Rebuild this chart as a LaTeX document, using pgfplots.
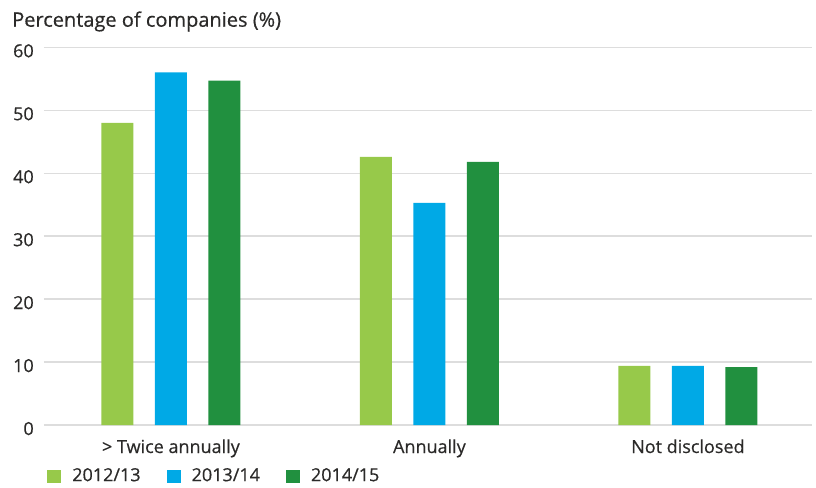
\documentclass[border=0pt]{standalone}
\usepackage{fontspec}
\setmainfont{Open Sans}[FakeBold=0.5]
\usepackage{pgfplots}
\pgfplotsset{compat=1.18}

\definecolor{lightg}{HTML}{97C94A}
\definecolor{skyb}{HTML}{00A9E6}
\definecolor{darkg}{HTML}{21903F}
\definecolor{txt}{HTML}{2B2A29}
\definecolor{gridc}{HTML}{DDDDDD}

\begin{document}
\fontsize{13.5}{16}\selectfont
\begin{tikzpicture}
% frame of the 816x487 px picture (1 px = 0.75 pt), axis origin at px (44,425)
\path[use as bounding box] (-33pt,-46.5pt) rectangle (579pt,318.75pt);
\begin{axis}[
    at={(0,0)}, anchor=south west,
    scale only axis, width=576pt, height=283.3pt,
    xmin=-0.491, xmax=2.480, ymin=0, ymax=60,
    ybar, bar width=24pt,
    axis line style={draw=none},
    major tick length=0pt,
    ymajorgrids, grid style={gridc, line width=1pt},
    ytick={0,10,20,30,40,50,60},
    xtick={0,1,2},
    xticklabels={{> Twice annually}, Annually, Not disclosed},
    /pgf/number format/assume math mode=true,
    ticklabel style={font=\fontsize{13.5}{16}\selectfont, text=txt, inner sep=0pt},
    yticklabel style={anchor=base east, xshift=-7.5pt, yshift=-7.5pt},
    xticklabel style={anchor=base, yshift=-21pt},
    legend columns=3,
    legend style={at={(axis description cs:0.0039,-0.135)}, anchor=west,
        draw=none, fill=none, inner sep=0pt,
        font=\fontsize{13.5}{16}\selectfont, text=txt,
        nodes={inner sep=0pt},
        /tikz/every even column/.append style={column sep=19.5pt}},
    legend image code/.code={%
        \fill[#1] (0pt,-5.5pt) rectangle (10.5pt,4.5pt);
        \path (18.75pt,0pt);},
]
\addplot[fill=lightg, draw=none, bar shift=-40.1pt] coordinates {(0,48.0) (1,42.6) (2,9.4)};
\addlegendentry{2012/13}
\addplot[fill=skyb, draw=none, bar shift=0pt] coordinates {(0,56.0) (1,35.3) (2,9.4)};
\addlegendentry{2013/14}
\addplot[fill=darkg, draw=none, bar shift=40.1pt] coordinates {(0,54.7) (1,41.8) (2,9.2)};
\addlegendentry{2014/15}
\end{axis}
\node[anchor=base west, inner sep=0pt, text=txt, font=\fontsize{15}{18}\selectfont]
    at (-24pt,298.7pt) {Percentage of companies (\%)};
\end{tikzpicture}
\end{document}
